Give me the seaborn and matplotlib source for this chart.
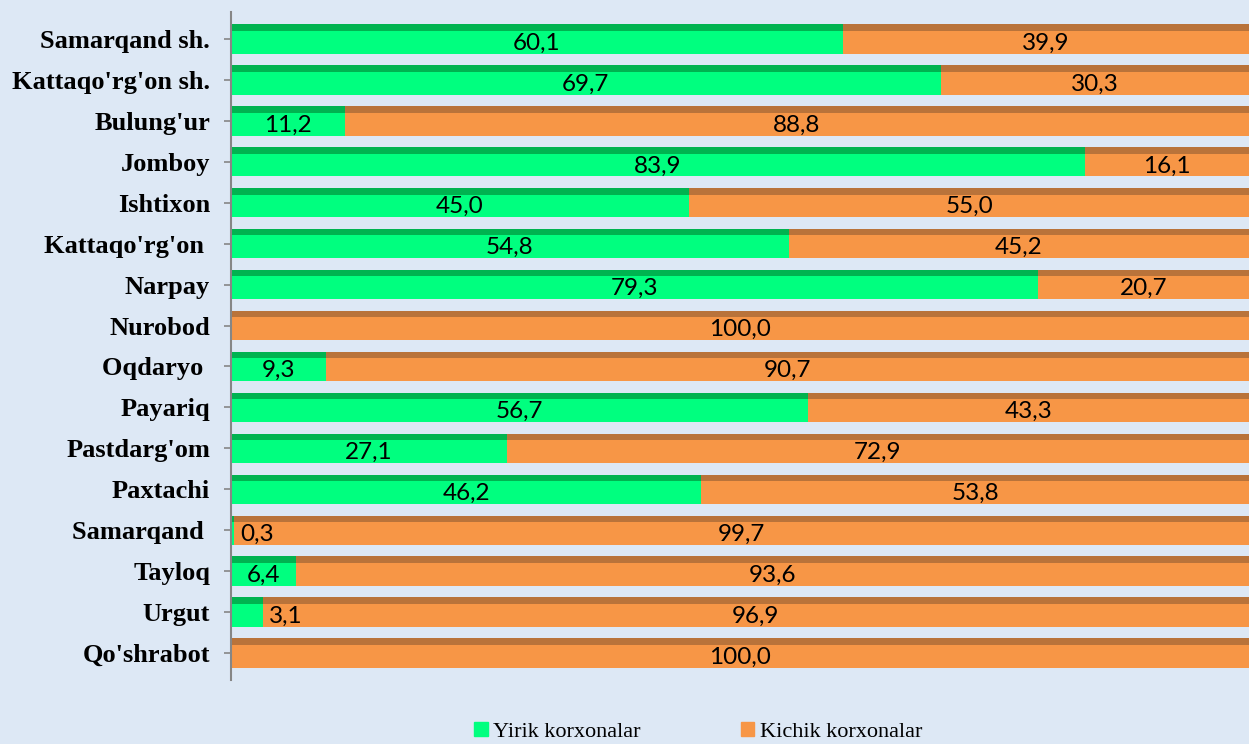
import matplotlib
matplotlib.use("Agg")
import matplotlib.pyplot as plt
import matplotlib.patches as mpatches
import numpy as np
import pandas as pd
import seaborn as sns

# data
districts = ["Samarqand sh.", "Kattaqo'rg'on sh.", "Bulung'ur", "Jomboy", "Ishtixon",
             "Kattaqo'rg'on ", "Narpay", "Nurobod", "Oqdaryo ", "Payariq",
             "Pastdarg'om", "Paxtachi", "Samarqand ", "Tayloq", "Urgut", "Qo'shrabot"]
yirik = [60.1, 69.7, 11.2, 83.9, 45.0, 54.8, 79.3, 0.0, 9.3, 56.7, 27.1, 46.2, 0.3, 6.4, 3.1, 0.0]
kichik = [39.9, 30.3, 88.8, 16.1, 55.0, 45.2, 20.7, 100.0, 90.7, 43.3, 72.9, 53.8, 99.7, 93.6, 96.9, 100.0]
legend_labels = ["Yirik korxonalar", "Kichik korxonalar"]

green, green_dark = "#00FF7F", "#00B350"
orange, orange_dark = "#F79646", "#B9733A"
bg = "#DDE8F5"

df = pd.DataFrame({"tuman": districts, "yirik": yirik, "kichik": kichik})
df["jami"] = df["yirik"] + df["kichik"]

sns.set_style("white")
plt.rcParams["text.color"] = "black"
plt.rcParams["ytick.labelcolor"] = "black"
fig = plt.figure(figsize=(12.49, 7.44), dpi=100, facecolor=bg)
ax = fig.add_axes([231 / 1249, 1 - 680 / 744, 1 - 231 / 1249, (680 - 12) / 744])
ax.set_facecolor(bg)

# orange full bar first, green on top (stacked to 100)
sns.barplot(data=df, y="tuman", x="jami", color=orange, orient="h", width=0.715,
            saturation=1, linewidth=0, ax=ax)
n = len(df)
sns.barplot(data=df, y="tuman", x="yirik", color=green, orient="h", width=0.715,
            saturation=1, linewidth=0, ax=ax)

# darker strip along the top of each bar
for i, p in enumerate(list(ax.patches)):
    if p.get_width() <= 0:
        continue
    dark = orange_dark if i < n else green_dark
    ax.add_patch(mpatches.Rectangle((p.get_x(), p.get_y()), p.get_width(),
                                    p.get_height() * 0.22, color=dark, lw=0, zorder=p.get_zorder() + 0.1))

ax.set_xlim(0, 100)
ax.set_ylim(n - 1 + 0.66, -0.66)

lab_font = dict(family="Lato", fontsize=17.5, color="black", va="center", ha="center", zorder=5)
for i, (g, k) in enumerate(zip(yirik, kichik)):
    yc = i + 0.1
    if g > 0:
        gx = g / 2 if g >= 5 else g + 2.3
        ax.text(gx, yc, f"{g:.1f}".replace(".", ","), **lab_font)
    if k > 0:
        ax.text(g + k / 2, yc, f"{k:.1f}".replace(".", ","), **lab_font)

ax.set_xlabel("")
ax.set_ylabel("")
ax.set_xticks([])
for s in ["top", "right", "bottom"]:
    ax.spines[s].set_visible(False)
ax.spines["left"].set_color("#868686")
ax.spines["left"].set_linewidth(1.5)
ax.tick_params(axis="y", left=True, length=5, width=1.2, color="#868686", pad=10)
for t in ax.get_yticklabels():
    t.set_family("Liberation Serif")
    t.set_fontweight("bold")
    t.set_fontsize(19)
    t.set_color("black")

handles = [mpatches.Patch(color=green), mpatches.Patch(color=orange)]
fig.legend(handles, legend_labels, loc="center", bbox_to_anchor=(0.559, 0.016), ncol=2,
           frameon=False, prop={"family": "Liberation Serif", "size": 16},
           handlelength=0.6, handleheight=0.6, handletextpad=0.25, columnspacing=4.5)

fig.savefig("out.png", dpi=100, facecolor=bg)
